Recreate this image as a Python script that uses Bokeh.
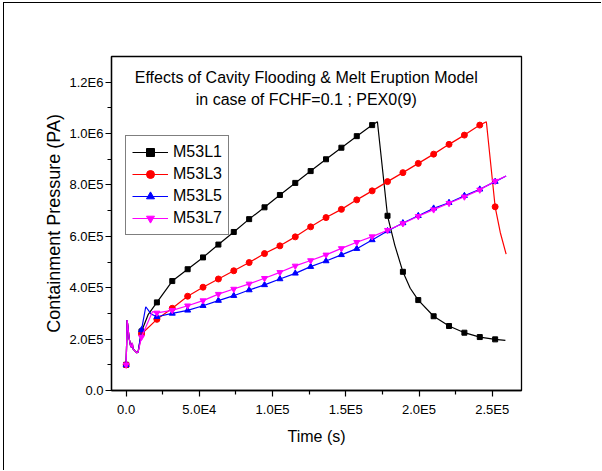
from bokeh.plotting import figure
from bokeh.models import FixedTicker, Legend, LegendItem, Label
from bokeh.embed import file_html
from bokeh.resources import INLINE

# ---------------- data ----------------
marker_x = [0, 10500, 21000, 31500, 42000, 52500, 63000, 73500, 84000, 94500,
            105000, 115500, 126000, 136500, 147000, 157500, 168000, 178500,
            189000, 199500, 210000, 220500, 231000, 241500, 252000]

m53l1_x = [0, 700, 2000, 3000, 3600, 4200, 4700, 5800, 7300, 8200, 10500, 15000,
           21000, 31500, 42000, 52500, 63000, 73500, 84000, 94500, 105000, 115500,
           126000, 136500, 147000, 157500, 168000, 171600, 178500, 183500, 189000,
           194000, 199500, 210000, 220500, 231000, 241500, 252000, 259000]
m53l1_y = [1.0e5, 2.74e5, 2.05e5, 1.75e5, 1.68e5, 1.85e5, 1.62e5, 1.55e5, 1.47e5, 1.5e5, 2.3e5, 2.95e5,
           3.43e5, 4.26e5, 4.72e5, 5.18e5, 5.68e5, 6.17e5, 6.67e5, 7.13e5, 7.61e5, 8.08e5,
           8.54e5, 9.0e5, 9.45e5, 9.9e5, 1.033e6, 1.046e6, 6.8e5, 5.65e5, 4.62e5,
           3.98e5, 3.52e5, 2.89e5, 2.51e5, 2.25e5, 2.08e5, 1.99e5, 1.95e5]

m53l3_x = [0, 700, 2000, 3000, 3600, 4200, 4700, 5800, 7300, 8200, 10500,
           21000, 31500, 42000, 52500, 63000, 73500, 84000, 94500, 105000, 115500,
           126000, 136500, 147000, 157500, 168000, 178500, 189000, 199500, 210000,
           220500, 231000, 241500, 246000, 252000, 255500, 259500]
m53l3_y = [1.0e5, 2.74e5, 2.05e5, 1.75e5, 1.68e5, 1.85e5, 1.62e5, 1.55e5, 1.47e5, 1.5e5, 2.2e5,
           2.77e5, 3.2e5, 3.67e5, 4.02e5, 4.34e5, 4.66e5, 4.98e5, 5.33e5, 5.63e5, 5.98e5,
           6.37e5, 6.73e5, 7.05e5, 7.42e5, 7.77e5, 8.13e5, 8.48e5, 8.84e5, 9.2e5,
           9.58e5, 9.94e5, 1.033e6, 1.046e6, 7.15e5, 6.15e5, 5.31e5]

m53l5_x = [0, 700, 2000, 3000, 3600, 4200, 4700, 5800, 7300, 8200, 10500, 13400, 17000,
           21000, 31500, 42000, 52500, 63000, 73500, 84000, 94500, 105000, 115500,
           126000, 136500, 147000, 157500, 168000, 178500, 189000, 199500, 210000,
           220500, 231000, 241500, 252000, 259500]
m53l5_y = [1.0e5, 2.74e5, 2.05e5, 1.75e5, 1.68e5, 1.85e5, 1.62e5, 1.55e5, 1.47e5, 1.5e5, 2.36e5, 3.26e5, 2.98e5,
           2.87e5, 3.0e5, 3.12e5, 3.3e5, 3.5e5, 3.69e5, 3.91e5, 4.11e5, 4.34e5, 4.56e5,
           4.82e5, 5.04e5, 5.28e5, 5.52e5, 5.86e5, 6.21e5, 6.52e5, 6.8e5, 7.09e5,
           7.31e5, 7.58e5, 7.83e5, 8.13e5, 8.35e5]

m53l7_x = [0, 700, 2000, 3000, 3600, 4200, 4700, 5800, 7300, 8200, 10500, 18000,
           21000, 31500, 42000, 52500, 63000, 73500, 84000, 94500, 105000, 115500,
           126000, 136500, 147000, 157500, 168000, 178500, 189000, 199500, 210000,
           220500, 231000, 241500, 252000, 259500]
m53l7_y = [1.0e5, 2.74e5, 2.05e5, 1.75e5, 1.68e5, 1.85e5, 1.62e5, 1.55e5, 1.47e5, 1.5e5, 2.08e5, 3.07e5,
           3.02e5, 3.12e5, 3.3e5, 3.5e5, 3.75e5, 3.95e5, 4.15e5, 4.37e5, 4.6e5, 4.85e5,
           5.06e5, 5.28e5, 5.53e5, 5.77e5, 5.99e5, 6.24e5, 6.5e5, 6.78e5, 7.04e5,
           7.29e5, 7.54e5, 7.81e5, 8.15e5, 8.35e5]

series_names = ["M53L1", "M53L3", "M53L5", "M53L7"]

x_major = [0, 50000, 100000, 150000, 200000, 250000]
x_minor = [25000, 75000, 125000, 175000, 225000]
x_tick_labels = ["0.0", "5.0E4", "1.0E5", "1.5E5", "2.0E5", "2.5E5"]
y_major = [0, 200000, 400000, 600000, 800000, 1000000, 1200000]
y_minor = [100000, 300000, 500000, 700000, 900000, 1100000]
y_tick_labels = ["0.0", "2.0E5", "4.0E5", "6.0E5", "8.0E5", "1.0E6", "1.2E6"]

title_lines = ["Effects of Cavity Flooding & Melt Eruption Model",
               "in case of FCHF=0.1 ; PEX0(9)"]

# ---------------- figure ----------------
FONT = "Liberation Sans"
p = figure(width=598, height=468, output_backend="svg", toolbar_location=None,
           x_range=(-10000, 270000), y_range=(0, 1.3e6),
           min_border_left=107, min_border_right=81, min_border_top=53, min_border_bottom=81)
p.margin = (2, 0, 0, 3)
p.styles = {"border-left": "1px solid black", "border-top": "1px solid black"}
p.background_fill_color = "white"
p.border_fill_color = "white"
p.grid.visible = False
p.outline_line_color = "black"
p.outline_line_width = 1.3
p.outline_line_alpha = 1

p.xaxis.ticker = FixedTicker(ticks=x_major, minor_ticks=x_minor)
p.yaxis.ticker = FixedTicker(ticks=y_major, minor_ticks=y_minor)
p.xaxis.major_label_overrides = {v: s for v, s in zip(x_major, x_tick_labels)}
p.yaxis.major_label_overrides = {v: s for v, s in zip(y_major, y_tick_labels)}

for ax in (p.xaxis[0], p.yaxis[0]):
    ax.axis_line_color = "black"
    ax.axis_line_width = 1.3
    ax.major_tick_line_color = "black"
    ax.minor_tick_line_color = "black"
    ax.major_tick_line_width = 1.2
    ax.minor_tick_line_width = 1.2
    ax.major_tick_in = 0
    ax.major_tick_out = 6
    ax.minor_tick_in = 0
    ax.minor_tick_out = 4
    ax.major_label_text_font = FONT
    ax.major_label_text_font_size = "13px"
    ax.major_label_text_color = "black"
    ax.axis_label_text_font = FONT
    ax.axis_label_text_font_style = "normal"
    ax.axis_label_text_color = "black"

p.xaxis.axis_label = "Time (s)"
p.xaxis.axis_label_text_font_size = "16px"
p.xaxis.major_label_standoff = 5
p.xaxis.axis_label_standoff = 8
p.yaxis.axis_label = "Containment Pressure (PA)"
p.yaxis.axis_label_text_font_size = "18px"
p.yaxis.major_label_standoff = 2
p.yaxis.axis_label_standoff = 3

styles = [
    (m53l1_x, m53l1_y, "black", "square", 5),
    (m53l3_x, m53l3_y, "#ff0000", "circle", 6),
    (m53l5_x, m53l5_y, "#0000ff", "triangle", 6),
    (m53l7_x, m53l7_y, "#ff00ff", "inverted_triangle", 6),
]

mset = set(marker_x)
items = []
for name, (xs, ys, col, mk, sz) in zip(series_names, styles):
    line = p.line(xs, ys, line_color=col, line_width=1.2)
    mx = [x for x in xs if x in mset]
    my = [y for x, y in zip(xs, ys) if x in mset]
    sc = p.scatter(mx, my, marker=mk, size=sz, fill_color=col, line_color=col)
    items.append(LegendItem(label=name, renderers=[line, sc]))

legend = Legend(items=items, location=(14, 155))
legend.border_line_color = "black"
legend.border_line_width = 1.3
legend.background_fill_color = "white"
legend.background_fill_alpha = 1
legend.label_text_font = FONT
legend.label_text_font_size = "16px"
legend.label_text_color = "black"
legend.glyph_width = 36
legend.glyph_height = 20
legend.label_height = 20
legend.spacing = 2
legend.padding = 6
legend.margin = 0
legend.label_standoff = 5
p.add_layout(legend)

for txt, yv in zip(title_lines, [1.219e6, 1.133e6]):
    p.add_layout(Label(x=123000, y=yv, text=txt, text_align="center",
                       text_baseline="middle", text_font=FONT,
                       text_font_size="16px", text_color="black"))

open("out.html", "w").write(file_html(p, INLINE))
